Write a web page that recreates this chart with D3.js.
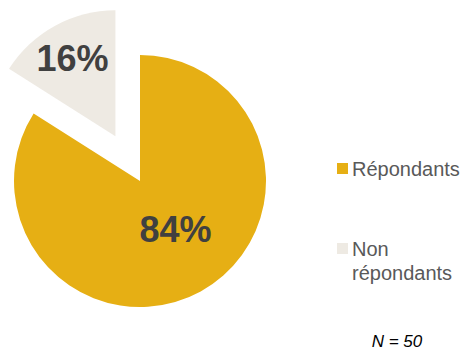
<!DOCTYPE html>
<html>
<head>
<meta charset="utf-8">
<script src="https://cdn.jsdelivr.net/npm/d3@7"></script>
<style>
  html, body { margin: 0; padding: 0; background: #fff; }
  svg { display: block; }
</style>
</head>
<body>
<svg id="chart" width="468" height="353"></svg>
<script>
// Survey response shares
const categories = ["Répondants", "Non répondants"];
const legendLines = [["Répondants"], ["Non", "répondants"]];
const values = [84, 16];
const colors = ["#E6AF14", "#EEEAE3"];
const sampleNote = "N = 50";

const svg = d3.select("#chart");
const cx = 140, cy = 181, radius = 126;
const explode = [0, 51];

const pie = d3.pie().sort(null).value(d => d.value);
const arcs = pie(categories.map((c, i) => ({ name: c, value: values[i], i })));
const arc = d3.arc().innerRadius(0).outerRadius(radius);
const labelArc = [
  d3.arc().innerRadius(55).outerRadius(55),
  d3.arc().innerRadius(89).outerRadius(89)
];

const g = svg.append("g").attr("transform", `translate(${cx},${cy})`);

const slices = g.selectAll("g.slice").data(arcs).enter().append("g")
  .attr("class", "slice")
  .attr("transform", d => {
    const mid = (d.startAngle + d.endAngle) / 2;
    const off = explode[d.data.i];
    return `translate(${Math.sin(mid) * off},${-Math.cos(mid) * off})`;
  });

slices.append("path")
  .attr("d", arc)
  .attr("fill", d => colors[d.data.i]);

slices.append("text")
  .attr("transform", d => `translate(${labelArc[d.data.i].centroid(d)})`)
  .attr("text-anchor", "middle")
  .attr("dy", "0.36em")
  .attr("dx", d => d.data.i === 0 ? 9 : 0)
  .style("font-family", "'Liberation Sans', Arial, sans-serif")
  .style("font-weight", "bold")
  .style("font-size", "36px")
  .style("fill", "#404040")
  .text(d => d.data.value + "%");

// Legend
const legendY = [168.5, 248.5];
const legend = svg.append("g");
categories.forEach((c, i) => {
  const row = legend.append("g").attr("transform", `translate(337,${legendY[i]})`);
  row.append("rect")
    .attr("x", 0).attr("y", -5.5)
    .attr("width", 11).attr("height", 11)
    .attr("fill", colors[i]);
  const t = row.append("text")
    .attr("x", 15).attr("y", 7)
    .style("font-family", "'Liberation Sans', Arial, sans-serif")
    .style("font-size", "20px")
    .style("fill", "#595959");
  legendLines[i].forEach((line, j) => {
    t.append("tspan").attr("x", 15).attr("dy", j === 0 ? 0 : 24).text(line);
  });
});

svg.append("text")
  .attr("x", 397).attr("y", 347)
  .attr("text-anchor", "middle")
  .style("font-family", "'Liberation Sans', Arial, sans-serif")
  .style("font-style", "italic")
  .style("font-size", "17px")
  .style("fill", "#000")
  .text(sampleNote);
</script>
</body>
</html>
